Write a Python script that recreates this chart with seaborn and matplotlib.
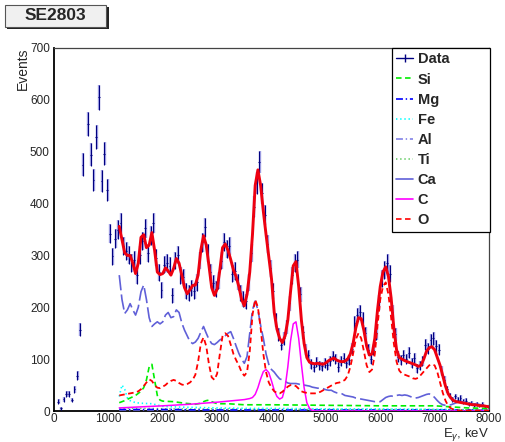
import numpy as np
import pandas as pd
import matplotlib
matplotlib.use("Agg")
import matplotlib.pyplot as plt
import seaborn as sns
from matplotlib.lines import Line2D
from matplotlib.patches import Rectangle
from matplotlib.ticker import MultipleLocator

# ---------------- measured spectrum (50 keV bins, bin centres in keV) ----------------
data_energy = [75, 125, 175, 225, 275, 325, 375, 425, 475, 525,
               625, 675, 725, 775, 825, 875, 925, 975] + list(range(1025, 8000, 50))
data_counts = [18, 5, 23, 33, 33, 21, 42, 68, 157, 475,
               553, 494, 446, 528, 605, 443, 496, 426,
               # 1025 ... 7975
               342, 298, 332, 350, 362, 318, 308, 300, 285, 292,
               262, 300, 328, 352, 305, 338, 362, 296, 268, 234,
               282, 285, 280, 223, 290, 300, 262, 258, 232, 228,
               238, 232, 248, 290, 325, 354, 305, 268, 246, 236,
               252, 290, 326, 312, 318, 265, 270, 249, 228, 216,
               212, 248, 305, 394, 440, 480, 420, 378, 322, 275,
               232, 175, 148, 128, 140, 162, 208, 262, 285, 292,
               225, 152, 118, 108, 90, 84, 95, 88, 86, 92,
               88, 96, 106, 100, 85, 96, 102, 92, 98, 120,
               170, 185, 190, 178, 150, 118, 100, 118, 150, 210,
               255, 272, 285, 265, 190, 148, 105, 98, 108, 100,
               112, 92, 102, 82, 88, 96, 128, 120, 136, 140,
               125, 118, 78, 60, 42, 30, 22, 28, 22, 25,
               18, 20, 14, 16, 12, 14, 10, 13, 9, 8]

# ---------------- fit and its components ----------------
fit_energy = list(range(1200, 8001, 50))
fit_total = [356, 330, 305, 300, 300, 285, 265, 285, 335, 340,
             315, 320, 344, 310, 268, 263, 265, 276, 270, 262,
             275, 294, 285, 262, 238, 226, 234, 242, 243, 262,
             310, 338, 320, 280, 238, 223, 235, 272, 315, 322,
             310, 292, 272, 259, 240, 215, 203, 225, 268, 340,
             435, 465, 435, 385, 340, 298, 255, 190, 158, 140,
             132, 145, 175, 230, 280, 288, 240, 175, 130, 103,
             94, 92, 91, 92, 91, 90, 93, 97, 100, 102,
             98, 96, 95, 96, 100, 110, 130, 160, 180, 178,
             155, 125, 108, 110, 140, 195, 240, 268, 278, 260,
             218, 160, 118, 103, 100, 97, 95, 93, 91, 89,
             86, 88, 100, 115, 122, 124, 118, 103, 88, 68,
             48, 33, 25, 20, 18, 17, 16, 15, 14, 13,
             12, 12, 11, 10, 10, 9, 8]

ca_curve = [262, 215, 188, 195, 207, 195, 185, 200, 230, 243,
            215, 180, 163, 168, 172, 168, 172, 185, 190, 180,
            182, 195, 190, 170, 156, 145, 134, 130, 133, 140,
            152, 163, 150, 138, 130, 128, 132, 137, 140, 145,
            150, 153, 140, 125, 111, 100, 92, 105, 150, 195,
            212, 195, 165, 140, 110, 90, 80, 75, 68, 62,
            60, 57, 54, 53, 53, 53, 52, 50, 50, 49,
            48, 46, 45, 44, 44, 43, 41, 40, 40, 37,
            35, 34, 33, 30, 29, 28, 27, 25, 24, 23,
            22, 21, 20, 19, 18, 18, 18, 22, 26, 28,
            29, 28, 30, 31, 30, 31, 30, 28, 26, 25,
            26, 28, 30, 32, 33, 31, 26, 20, 15, 12,
            11, 11, 12, 14, 16, 18, 18, 17, 16, 15,
            14, 13, 13, 12, 12, 11, 10]

o_curve = [30, 31, 32, 33, 34, 35, 36, 38, 42, 48,
           55, 61, 58, 50, 45, 44, 47, 50, 55, 58,
           60, 58, 54, 51, 50, 52, 55, 60, 70, 95,
           130, 142, 125, 90, 65, 60, 72, 110, 145, 150,
           145, 128, 110, 98, 88, 75, 68, 75, 115, 185,
           215, 200, 160, 110, 75, 55, 45, 38, 35, 34,
           37, 42, 47, 50, 50, 48, 43, 38, 36, 35,
           34, 34, 34, 35, 37, 40, 43, 46, 49, 52,
           54, 55, 57, 60, 68, 85, 110, 138, 150, 140,
           115, 88, 75, 80, 110, 165, 215, 240, 248, 225,
           180, 130, 95, 78, 72, 70, 68, 66, 63, 62,
           64, 70, 76, 82, 88, 90, 88, 75, 55, 35,
           20, 10, 5, 3, 2, 1, 1, 1, 1, 1,
           1, 1, 1, 1, 1, 1, 1]

c_energy = [1200, 1600, 2000, 2500, 3000, 3300, 3500, 3600, 3650, 3700,
            3750, 3800, 3850, 3900, 3950, 4000, 4050, 4100, 4150, 4200,
            4250, 4300, 4350, 4400, 4450, 4500, 4550, 4600, 4650, 4700,
            4750, 4800, 8000]
c_curve = [6, 8, 10, 13, 17, 20, 22, 24, 26, 32,
           45, 62, 76, 80, 74, 58, 40, 28, 23, 26,
           45, 85, 135, 168, 172, 140, 90, 45, 16, 5,
           1, 0, 0]

si_energy = [1200, 1300, 1400, 1500, 1600, 1650, 1700, 1750, 1800, 1850,
             1900, 1950, 2000, 2200, 2400, 2600, 2700, 2750, 2800, 2850,
             2900, 3000, 3200, 3500, 4000, 5000, 6000, 7000, 7300, 7600, 8000]
si_curve = [16, 20, 25, 30, 38, 45, 60, 85, 90, 60,
            30, 21, 19, 18, 15, 13, 15, 18, 20, 21,
            18, 14, 14, 12, 12, 11, 10, 10, 8, 6, 5]

fe_energy = [1200, 1250, 1300, 1350, 1400, 1500, 1600, 1800, 2000, 2200,
             2500, 3000, 3500, 4000, 5000, 6000, 7000, 8000]
fe_curve = [28, 50, 42, 25, 20, 16, 15, 14, 9, 8,
            7, 6, 5, 5, 4, 4, 3, 2]

minor_energy = [1200, 1700, 2200, 2700, 3200, 3700, 4200, 4700,
                5200, 5700, 6200, 6700, 7200, 7700, 8000]
mg_curve = [3, 3, 3, 2, 2, 2, 2, 2, 2, 2, 2, 2, 2, 2, 1]
al_curve = [2, 2, 2, 2, 2, 2, 1, 1, 1, 1, 1, 1, 1, 1, 1]
ti_curve = [5, 5, 4, 4, 4, 3, 3, 3, 3, 3, 3, 3, 3, 2, 2]

legend_labels = ["Data", "Si", "Mg", "Fe", "Al", "Ti", "Ca", "C", "O"]

# ---------------- styling ----------------
sns.set_style("white")
plt.rcParams["font.family"] = ["Liberation Sans", "DejaVu Sans"]
plt.rcParams["mathtext.fontset"] = "custom"
plt.rcParams["mathtext.rm"] = "Liberation Sans"
plt.rcParams["mathtext.it"] = "Liberation Sans:italic"
plt.rcParams["lines.scale_dashes"] = False

W, H = 505, 442
fig = plt.figure(figsize=(W / 100, H / 100), dpi=100)
ax = fig.add_axes([54 / W, 1 - 411 / H, 435 / W, 363 / H])

navy = "#000080"
band = (0.40, 0.40, 0.84, 0.6)
col = {"Si": "#00ee00", "Mg": "#0000ff", "Fe": "#00ffff", "Al": "#8282e6",
       "Ti": "#66cc66", "Ca": "#6060d8", "C": "#ff00ff", "O": "#ff0000"}
ls = {"Si": (0, (4, 2.5)), "Mg": (0, (5, 2, 1, 2)), "Fe": (0, (1, 2)),
      "Al": (0, (5, 2, 1, 2)), "Ti": (0, (1, 2)), "Ca": (0, (11, 3)),
      "C": "-", "O": (0, (4, 2.5))}

# data points: light band underneath, dark error bar on top
e = np.array(data_energy, dtype=float)
n = np.array(data_counts, dtype=float)
err = np.sqrt(n)
ax.errorbar(e + 9, n, yerr=err, fmt="none", ecolor=band, elinewidth=1.7, zorder=2)
ax.errorbar(e, n, yerr=err, xerr=16, fmt="none", ecolor=navy, elinewidth=0.8, zorder=3)


def draw(x, y, name, lw=1.1, z=4):
    sns.lineplot(x=x, y=y, ax=ax, color=col[name], lw=lw, estimator=None,
                 sort=False, zorder=z)
    ax.lines[-1].set_linestyle(ls[name])


draw(minor_energy, ti_curve, "Ti")
draw(minor_energy, al_curve, "Al")
draw(minor_energy, mg_curve, "Mg")
draw(fe_energy, fe_curve, "Fe", lw=1.2)
draw(si_energy, si_curve, "Si", lw=1.2)
draw(fit_energy, ca_curve, "Ca", lw=1.2)
draw(c_energy, c_curve, "C", lw=1.1)
draw(fit_energy, o_curve, "O", lw=1.3)
sns.lineplot(x=fit_energy, y=fit_total, ax=ax, color="#ee0010", lw=2.1,
             estimator=None, sort=False, zorder=6)

# axes
ax.set_xlim(0, 8000)
ax.set_ylim(0, 700)
ax.xaxis.set_major_locator(MultipleLocator(1000))
ax.xaxis.set_minor_locator(MultipleLocator(200))
ax.yaxis.set_major_locator(MultipleLocator(100))
ax.yaxis.set_minor_locator(MultipleLocator(20))
ax.tick_params(axis="both", which="both", direction="in", labelsize=8.5,
               color="black", top=False, right=False)
ax.tick_params(axis="x", which="both", pad=1.5)
ax.tick_params(axis="y", which="both", pad=3)
ax.tick_params(axis="x", which="major", length=6, width=1)
ax.tick_params(axis="x", which="minor", length=3, width=0.8)
ax.tick_params(axis="y", which="major", length=5.5, width=1)
ax.tick_params(axis="y", which="minor", length=3.5, width=0.8)
ax.set_xlabel("")
ax.set_ylabel("")
for s in ("left", "bottom"):
    ax.spines[s].set_color("black")
    ax.spines[s].set_linewidth(1.3)
for s in ("top", "right"):
    ax.spines[s].set_color("#444444")
    ax.spines[s].set_linewidth(0.9)

fig.text(23 / W, 1 - 47 / H, "Events", rotation=90, ha="center", va="top", fontsize=10)
fig.text(489 / W, 1 - 437 / H, r"E$_{\gamma}$, keV", ha="right", va="baseline", fontsize=9.5)

# legend
handles = [Line2D([], [], color=navy, lw=1, marker="|", markersize=6)]
for name in legend_labels[1:]:
    style = "-" if name == "Ca" else ls[name]
    handles.append(Line2D([], [], color=col[name], lw=1.2, linestyle=style))
leg = ax.legend(handles, legend_labels, loc="upper left",
                bbox_to_anchor=(338 / 435, 0, 98 / 435, 1.0), mode="expand",
                borderaxespad=0, fancybox=False, framealpha=1,
                edgecolor="black", handlelength=1.15, handletextpad=0.3,
                borderpad=0.3, labelspacing=0.42,
                prop={"weight": "bold", "size": 10.5})
leg.get_frame().set_linewidth(0.9)

# title box
fig.patches.append(Rectangle((7 / W, 1 - 29 / H), 102 / W, 22 / H,
                             transform=fig.transFigure, facecolor="#222222",
                             edgecolor="none", zorder=1))
fig.patches.append(Rectangle((4.5 / W, 1 - 26.5 / H), 101.5 / W, 21.5 / H,
                             transform=fig.transFigure, facecolor="#f0f0f0",
                             edgecolor="#555555", lw=0.8, zorder=2))
fig.text(55.5 / W, 1 - 16 / H, "SE2803", ha="center", va="center",
         fontsize=12.5, fontweight="bold", zorder=3)

fig.savefig("out.png", dpi=100, facecolor="white")
